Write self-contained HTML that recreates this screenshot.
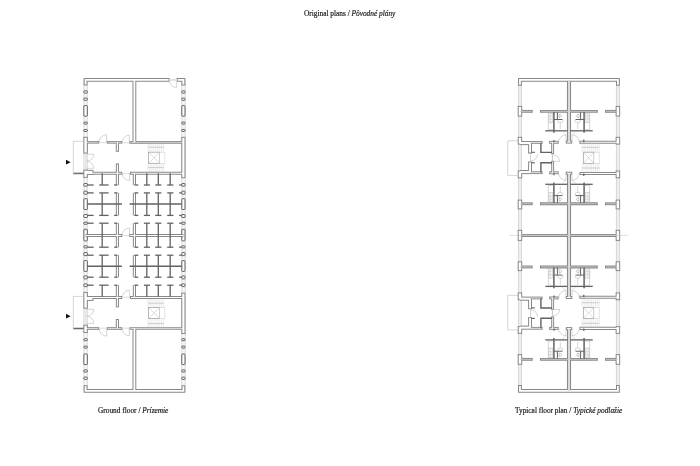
<!DOCTYPE html>
<html><head><meta charset="utf-8"><style>
html,body{margin:0;padding:0;background:#fff;width:700px;height:466px;overflow:hidden;position:relative}
.t{position:absolute;font-family:"Liberation Serif",serif;font-size:7.35px;color:#1a1a1a;white-space:nowrap;line-height:1;will-change:transform;-webkit-text-stroke:0.18px #1a1a1a}
</style></head><body>
<div class="t" id="t1" style="left:303.6px;top:9.6px">Original plans / <i>Pôvodné plány</i></div>
<div class="t" id="t2" style="left:97.9px;top:406.5px">Ground floor / <i>Prízemie</i></div>
<div class="t" id="t3" style="left:514.6px;top:406.5px">Typical floor plan / <i>Typické podlažie</i></div>
<svg width="700" height="466" viewBox="0 0 700 466" style="position:absolute;left:0;top:0">
<g fill="none"><rect x="83.9" y="80" width="3.3" height="311" fill="#f7f7f7" stroke="#c4c4c4" stroke-width="0.6"/><rect x="181.85" y="80" width="3.3" height="311" fill="#f7f7f7" stroke="#c4c4c4" stroke-width="0.6"/><rect x="518.2" y="80" width="3.4" height="311" fill="#eeeeee" stroke="#bdbdbd" stroke-width="0.5"/><rect x="616.2" y="80" width="3.4" height="311" fill="#eeeeee" stroke="#bdbdbd" stroke-width="0.5"/></g><rect x="83.9" y="153.8" width="3.0" height="15.5" fill="#e8e8e8"/><rect x="83.9" y="308.9" width="3.0" height="15.5" fill="#e8e8e8"/>
<g fill="#fff" stroke="#5e5e5e" stroke-width="1.0"><rect x="83.86" y="90.8" width="3.44" height="2.3" rx="0.5"/><rect x="181.8" y="90.8" width="3.2" height="2.3" rx="0.5"/><rect x="83.86" y="98.1" width="3.44" height="2.2" rx="0.5"/><rect x="181.8" y="98.1" width="3.2" height="2.2" rx="0.5"/><rect x="83.86" y="105.6" width="3.44" height="10.6" rx="0.5"/><rect x="181.8" y="105.6" width="3.2" height="10.6" rx="0.5"/><rect x="83.86" y="122.1" width="3.44" height="2" rx="0.5"/><rect x="181.8" y="122.1" width="3.2" height="2" rx="0.5"/><rect x="83.86" y="129.5" width="3.44" height="2" rx="0.5"/><rect x="181.8" y="129.5" width="3.2" height="2" rx="0.5"/><rect x="83.86" y="377.1" width="3.44" height="2.3" rx="0.5"/><rect x="181.8" y="377.1" width="3.2" height="2.3" rx="0.5"/><rect x="83.86" y="369.9" width="3.44" height="2.2" rx="0.5"/><rect x="181.8" y="369.9" width="3.2" height="2.2" rx="0.5"/><rect x="83.86" y="354" width="3.44" height="10.6" rx="0.5"/><rect x="181.8" y="354" width="3.2" height="10.6" rx="0.5"/><rect x="83.86" y="346.1" width="3.44" height="2" rx="0.5"/><rect x="181.8" y="346.1" width="3.2" height="2" rx="0.5"/><rect x="83.86" y="338.7" width="3.44" height="2" rx="0.5"/><rect x="181.8" y="338.7" width="3.2" height="2" rx="0.5"/><rect x="83.86" y="183.5" width="3.44" height="2.7" rx="0.5"/><rect x="181.8" y="183.5" width="3.2" height="2.7" rx="0.5"/><rect x="83.86" y="191.2" width="3.44" height="3" rx="0.5"/><rect x="181.8" y="191.2" width="3.2" height="3" rx="0.5"/><rect x="83.86" y="198.7" width="3.44" height="10.8" rx="0.5"/><rect x="181.8" y="198.7" width="3.2" height="10.8" rx="0.5"/><rect x="83.86" y="214.5" width="3.44" height="3" rx="0.5"/><rect x="181.8" y="214.5" width="3.2" height="3" rx="0.5"/><rect x="83.86" y="222.2" width="3.44" height="2.1" rx="0.5"/><rect x="181.8" y="222.2" width="3.2" height="2.1" rx="0.5"/><rect x="83.86" y="283.9" width="3.44" height="2.7" rx="0.5"/><rect x="181.8" y="283.9" width="3.2" height="2.7" rx="0.5"/><rect x="83.86" y="275.9" width="3.44" height="3" rx="0.5"/><rect x="181.8" y="275.9" width="3.2" height="3" rx="0.5"/><rect x="83.86" y="260.6" width="3.44" height="10.8" rx="0.5"/><rect x="181.8" y="260.6" width="3.2" height="10.8" rx="0.5"/><rect x="83.86" y="252.6" width="3.44" height="3" rx="0.5"/><rect x="181.8" y="252.6" width="3.2" height="3" rx="0.5"/><rect x="83.86" y="245.8" width="3.44" height="2.1" rx="0.5"/><rect x="181.8" y="245.8" width="3.2" height="2.1" rx="0.5"/><rect x="83.86" y="229.3" width="3.44" height="11.6" rx="0.5"/><rect x="181.8" y="229.3" width="3.2" height="11.6" rx="0.5"/></g>
<g fill="none" stroke="#888888" stroke-linejoin="miter" stroke-linecap="butt"><path d="M85.58,85.6 L85.58,79.93 L169.6,79.93" stroke-width="3.85"/><path d="M176.6,79.93 L183.4,79.93 L183.4,85.6" stroke-width="3.85"/><path d="M134.4,79.93 L134.4,142.25" stroke-width="3.8"/><path d="M183.4,136.8 L183.4,178.2" stroke-width="4.2"/><path d="M85.58,142.3 L99.2,142.3" stroke-width="2.65"/><path d="M106.7,142.3 L122.3,142.3" stroke-width="2.65"/><path d="M129.3,142.3 L183.4,142.3" stroke-width="2.65"/><path d="M85.58,173.3 L122.2,173.3" stroke-width="3.05"/><path d="M130,173.3 L183.4,173.3" stroke-width="3.05"/><path d="M85.58,172.35 L93.45,172.35" stroke-width="4.9"/><path d="M117.4,142.25 L117.4,151.8" stroke-width="3.25"/><path d="M117.4,163.4 L117.4,173.3" stroke-width="3.1"/><path d="M85.58,385.2 L85.58,390.87 L183.4,390.87 L183.4,385.2" stroke-width="3.85"/><path d="M134.4,390.87 L134.4,328.55" stroke-width="3.8"/><path d="M183.4,334 L183.4,292.6" stroke-width="4.2"/><path d="M85.58,328.5 L99.2,328.5" stroke-width="2.65"/><path d="M106.7,328.5 L122.3,328.5" stroke-width="2.65"/><path d="M129.3,328.5 L183.4,328.5" stroke-width="2.65"/><path d="M85.58,297.5 L122.2,297.5" stroke-width="3.05"/><path d="M130,297.5 L183.4,297.5" stroke-width="3.05"/><path d="M85.58,298.45 L93.45,298.45" stroke-width="4.9"/><path d="M117.4,328.55 L117.4,319" stroke-width="3.25"/><path d="M117.4,307.4 L117.4,297.5" stroke-width="3.1"/><path d="M85.58,136.8 L85.58,153.6" stroke-width="4.44"/><path d="M85.58,169.6 L85.58,177.9" stroke-width="4.44"/><path d="M85.58,291.9 L85.58,308.7" stroke-width="4.44"/><path d="M85.58,324.7 L85.58,333" stroke-width="4.44"/><path d="M117.4,173.3 L117.4,185" stroke-width="3.15"/><path d="M117.4,192.9 L117.4,215.4" stroke-width="3.15"/><path d="M117.4,223.2 L117.4,235.05" stroke-width="3.15"/><path d="M134.4,173.3 L134.4,185" stroke-width="3.15"/><path d="M134.4,192.9 L134.4,215.4" stroke-width="3.15"/><path d="M134.4,223.2 L134.4,235.05" stroke-width="3.15"/><path d="M117.4,296.8 L117.4,285.2" stroke-width="3.15"/><path d="M117.4,277.2 L117.4,255.2" stroke-width="3.15"/><path d="M117.4,247.2 L117.4,235.05" stroke-width="3.15"/><path d="M134.4,296.8 L134.4,285.2" stroke-width="3.15"/><path d="M134.4,277.2 L134.4,255.2" stroke-width="3.15"/><path d="M134.4,247.2 L134.4,235.05" stroke-width="3.15"/><path d="M85.58,235.4 L122.3,235.4" stroke-width="3.05"/><path d="M129.2,235.4 L183.4,235.4" stroke-width="3.05"/><path d="M519.95,85.7 L519.95,79.82 L617.9,79.82 L617.9,85.7" stroke-width="3.8"/><path d="M569,79.82 L569,142.1" stroke-width="4.1"/><path d="M569,173.2 L569,235.35" stroke-width="4.1"/><path d="M565.8,142.1 L572.2,142.1" stroke-width="3"/><path d="M565.8,173.2 L572.2,173.2" stroke-width="3"/><path d="M519.95,105.9 L519.95,116.6" stroke-width="4.5"/><path d="M617.9,105.9 L617.9,116.6" stroke-width="4.5"/><path d="M519.95,136.8 L519.95,144.6" stroke-width="4.5"/><path d="M617.9,136.8 L617.9,144.6" stroke-width="4.5"/><path d="M519.95,170.5 L519.95,178.3" stroke-width="4.5"/><path d="M617.9,170.5 L617.9,178.3" stroke-width="4.5"/><path d="M519.95,199.6 L519.95,209.4" stroke-width="4.5"/><path d="M617.9,199.6 L617.9,209.4" stroke-width="4.5"/><path d="M519.95,229.8 L519.95,235.35" stroke-width="4.5"/><path d="M617.9,229.8 L617.9,235.35" stroke-width="4.5"/><path d="M519.95,111.35 L532.7,111.35" stroke-width="2.85"/><path d="M540,111.35 L597.8,111.35" stroke-width="2.85"/><path d="M605,111.35 L617.9,111.35" stroke-width="2.85"/><path d="M519.95,203.75 L532.7,203.75" stroke-width="2.85"/><path d="M540,203.75 L597.8,203.75" stroke-width="2.85"/><path d="M605,203.75 L617.9,203.75" stroke-width="2.85"/><path d="M579.4,142.3 L617.9,142.3" stroke-width="3.1"/><path d="M579.4,173.5 L617.9,173.5" stroke-width="3.1"/><path d="M519.95,143.05 L530.05,143.05" stroke-width="4.1"/><path d="M530.05,143.05 L530.05,153.6" stroke-width="3.9"/><path d="M530.05,142.4 L542.6,142.4" stroke-width="2.8"/><path d="M552.65,142.3 L552.65,154.3" stroke-width="2.9"/><path d="M549.2,142.3 L558.7,142.3" stroke-width="2.9"/><path d="M519.95,172.05 L530.05,172.05" stroke-width="4.1"/><path d="M530.05,172.05 L530.05,161.5" stroke-width="3.9"/><path d="M530.05,172.7 L542.6,172.7" stroke-width="2.8"/><path d="M552.65,172.8 L552.65,160.8" stroke-width="2.9"/><path d="M549.2,172.8 L558.7,172.8" stroke-width="2.9"/><path d="M519.95,385 L519.95,390.88 L617.9,390.88 L617.9,385" stroke-width="3.8"/><path d="M569,390.88 L569,328.6" stroke-width="4.1"/><path d="M569,297.5 L569,235.35" stroke-width="4.1"/><path d="M565.8,328.6 L572.2,328.6" stroke-width="3"/><path d="M565.8,297.5 L572.2,297.5" stroke-width="3"/><path d="M519.95,364.8 L519.95,354.1" stroke-width="4.5"/><path d="M617.9,364.8 L617.9,354.1" stroke-width="4.5"/><path d="M519.95,333.9 L519.95,326.1" stroke-width="4.5"/><path d="M617.9,333.9 L617.9,326.1" stroke-width="4.5"/><path d="M519.95,300.2 L519.95,292.4" stroke-width="4.5"/><path d="M617.9,300.2 L617.9,292.4" stroke-width="4.5"/><path d="M519.95,271.1 L519.95,261.3" stroke-width="4.5"/><path d="M617.9,271.1 L617.9,261.3" stroke-width="4.5"/><path d="M519.95,240.9 L519.95,235.35" stroke-width="4.5"/><path d="M617.9,240.9 L617.9,235.35" stroke-width="4.5"/><path d="M519.95,359.35 L532.7,359.35" stroke-width="2.85"/><path d="M540,359.35 L597.8,359.35" stroke-width="2.85"/><path d="M605,359.35 L617.9,359.35" stroke-width="2.85"/><path d="M519.95,266.95 L532.7,266.95" stroke-width="2.85"/><path d="M540,266.95 L597.8,266.95" stroke-width="2.85"/><path d="M605,266.95 L617.9,266.95" stroke-width="2.85"/><path d="M579.4,328.4 L617.9,328.4" stroke-width="3.1"/><path d="M579.4,297.2 L617.9,297.2" stroke-width="3.1"/><path d="M519.95,327.65 L530.05,327.65" stroke-width="4.1"/><path d="M530.05,327.65 L530.05,317.1" stroke-width="3.9"/><path d="M530.05,328.3 L542.6,328.3" stroke-width="2.8"/><path d="M552.65,328.4 L552.65,316.4" stroke-width="2.9"/><path d="M549.2,328.4 L558.7,328.4" stroke-width="2.9"/><path d="M519.95,298.65 L530.05,298.65" stroke-width="4.1"/><path d="M530.05,298.65 L530.05,309.2" stroke-width="3.9"/><path d="M530.05,298 L542.6,298" stroke-width="2.8"/><path d="M552.65,297.9 L552.65,309.9" stroke-width="2.9"/><path d="M549.2,297.9 L558.7,297.9" stroke-width="2.9"/><path d="M519.95,235.4 L617.9,235.4" stroke-width="2.95"/></g>
<g fill="none" stroke="#fff" stroke-linejoin="miter" stroke-linecap="butt"><path d="M85.58,84.6 L85.58,79.93 L168.6,79.93" stroke-width="1.85"/><path d="M177.6,79.93 L183.4,79.93 L183.4,84.6" stroke-width="1.85"/><path d="M134.4,79.93 L134.4,142.25" stroke-width="1.8"/><path d="M183.4,137.8 L183.4,177.2" stroke-width="2.2"/><path d="M85.58,142.3 L98.2,142.3" stroke-width="0.65"/><path d="M107.7,142.3 L121.3,142.3" stroke-width="0.65"/><path d="M130.3,142.3 L183.4,142.3" stroke-width="0.65"/><path d="M85.58,173.3 L121.2,173.3" stroke-width="1.05"/><path d="M131,173.3 L183.4,173.3" stroke-width="1.05"/><path d="M85.58,172.35 L92.45,172.35" stroke-width="2.9"/><path d="M117.4,142.25 L117.4,150.8" stroke-width="1.25"/><path d="M117.4,164.4 L117.4,173.3" stroke-width="1.1"/><path d="M85.58,386.2 L85.58,390.87 L183.4,390.87 L183.4,386.2" stroke-width="1.85"/><path d="M134.4,390.87 L134.4,328.55" stroke-width="1.8"/><path d="M183.4,333 L183.4,293.6" stroke-width="2.2"/><path d="M85.58,328.5 L98.2,328.5" stroke-width="0.65"/><path d="M107.7,328.5 L121.3,328.5" stroke-width="0.65"/><path d="M130.3,328.5 L183.4,328.5" stroke-width="0.65"/><path d="M85.58,297.5 L121.2,297.5" stroke-width="1.05"/><path d="M131,297.5 L183.4,297.5" stroke-width="1.05"/><path d="M85.58,298.45 L92.45,298.45" stroke-width="2.9"/><path d="M117.4,328.55 L117.4,320" stroke-width="1.25"/><path d="M117.4,306.4 L117.4,297.5" stroke-width="1.1"/><path d="M85.58,137.8 L85.58,152.6" stroke-width="2.44"/><path d="M85.58,170.6 L85.58,176.9" stroke-width="2.44"/><path d="M85.58,292.9 L85.58,307.7" stroke-width="2.44"/><path d="M85.58,325.7 L85.58,332" stroke-width="2.44"/><path d="M117.4,173.3 L117.4,185" stroke-width="1.15"/><path d="M117.4,192.9 L117.4,215.4" stroke-width="1.15"/><path d="M117.4,223.2 L117.4,235.05" stroke-width="1.15"/><path d="M134.4,173.3 L134.4,185" stroke-width="1.15"/><path d="M134.4,192.9 L134.4,215.4" stroke-width="1.15"/><path d="M134.4,223.2 L134.4,235.05" stroke-width="1.15"/><path d="M117.4,296.8 L117.4,285.2" stroke-width="1.15"/><path d="M117.4,277.2 L117.4,255.2" stroke-width="1.15"/><path d="M117.4,247.2 L117.4,235.05" stroke-width="1.15"/><path d="M134.4,296.8 L134.4,285.2" stroke-width="1.15"/><path d="M134.4,277.2 L134.4,255.2" stroke-width="1.15"/><path d="M134.4,247.2 L134.4,235.05" stroke-width="1.15"/><path d="M85.58,235.4 L121.3,235.4" stroke-width="1.05"/><path d="M130.2,235.4 L183.4,235.4" stroke-width="1.05"/><path d="M519.95,84.7 L519.95,79.82 L617.9,79.82 L617.9,84.7" stroke-width="1.8"/><path d="M569,79.82 L569,142.1" stroke-width="2.1" stroke="#dadada"/><path d="M569,173.2 L569,235.35" stroke-width="2.1" stroke="#dadada"/><path d="M566.8,142.1 L571.2,142.1" stroke-width="1"/><path d="M566.8,173.2 L571.2,173.2" stroke-width="1"/><path d="M519.95,106.9 L519.95,115.6" stroke-width="2.5"/><path d="M617.9,106.9 L617.9,115.6" stroke-width="2.5"/><path d="M519.95,137.8 L519.95,143.6" stroke-width="2.5"/><path d="M617.9,137.8 L617.9,143.6" stroke-width="2.5"/><path d="M519.95,171.5 L519.95,177.3" stroke-width="2.5"/><path d="M617.9,171.5 L617.9,177.3" stroke-width="2.5"/><path d="M519.95,200.6 L519.95,208.4" stroke-width="2.5"/><path d="M617.9,200.6 L617.9,208.4" stroke-width="2.5"/><path d="M519.95,230.8 L519.95,235.35" stroke-width="2.5"/><path d="M617.9,230.8 L617.9,235.35" stroke-width="2.5"/><path d="M519.95,111.35 L531.7,111.35" stroke-width="0.85" stroke="#d0d0d0"/><path d="M541,111.35 L596.8,111.35" stroke-width="0.85" stroke="#d0d0d0"/><path d="M606,111.35 L617.9,111.35" stroke-width="0.85" stroke="#d0d0d0"/><path d="M519.95,203.75 L531.7,203.75" stroke-width="0.85" stroke="#d0d0d0"/><path d="M541,203.75 L596.8,203.75" stroke-width="0.85" stroke="#d0d0d0"/><path d="M606,203.75 L617.9,203.75" stroke-width="0.85" stroke="#d0d0d0"/><path d="M580.4,142.3 L617.9,142.3" stroke-width="1.1"/><path d="M580.4,173.5 L617.9,173.5" stroke-width="1.1"/><path d="M519.95,143.05 L530.05,143.05" stroke-width="2.1"/><path d="M530.05,143.05 L530.05,152.6" stroke-width="1.9"/><path d="M530.05,142.4 L541.6,142.4" stroke-width="0.8"/><path d="M552.65,142.3 L552.65,153.3" stroke-width="0.9"/><path d="M550.2,142.3 L557.7,142.3" stroke-width="0.9"/><path d="M519.95,172.05 L530.05,172.05" stroke-width="2.1"/><path d="M530.05,172.05 L530.05,162.5" stroke-width="1.9"/><path d="M530.05,172.7 L541.6,172.7" stroke-width="0.8"/><path d="M552.65,172.8 L552.65,161.8" stroke-width="0.9"/><path d="M550.2,172.8 L557.7,172.8" stroke-width="0.9"/><path d="M519.95,386 L519.95,390.88 L617.9,390.88 L617.9,386" stroke-width="1.8"/><path d="M569,390.88 L569,328.6" stroke-width="2.1" stroke="#dadada"/><path d="M569,297.5 L569,235.35" stroke-width="2.1" stroke="#dadada"/><path d="M566.8,328.6 L571.2,328.6" stroke-width="1"/><path d="M566.8,297.5 L571.2,297.5" stroke-width="1"/><path d="M519.95,363.8 L519.95,355.1" stroke-width="2.5"/><path d="M617.9,363.8 L617.9,355.1" stroke-width="2.5"/><path d="M519.95,332.9 L519.95,327.1" stroke-width="2.5"/><path d="M617.9,332.9 L617.9,327.1" stroke-width="2.5"/><path d="M519.95,299.2 L519.95,293.4" stroke-width="2.5"/><path d="M617.9,299.2 L617.9,293.4" stroke-width="2.5"/><path d="M519.95,270.1 L519.95,262.3" stroke-width="2.5"/><path d="M617.9,270.1 L617.9,262.3" stroke-width="2.5"/><path d="M519.95,239.9 L519.95,235.35" stroke-width="2.5"/><path d="M617.9,239.9 L617.9,235.35" stroke-width="2.5"/><path d="M519.95,359.35 L531.7,359.35" stroke-width="0.85" stroke="#d0d0d0"/><path d="M541,359.35 L596.8,359.35" stroke-width="0.85" stroke="#d0d0d0"/><path d="M606,359.35 L617.9,359.35" stroke-width="0.85" stroke="#d0d0d0"/><path d="M519.95,266.95 L531.7,266.95" stroke-width="0.85" stroke="#d0d0d0"/><path d="M541,266.95 L596.8,266.95" stroke-width="0.85" stroke="#d0d0d0"/><path d="M606,266.95 L617.9,266.95" stroke-width="0.85" stroke="#d0d0d0"/><path d="M580.4,328.4 L617.9,328.4" stroke-width="1.1"/><path d="M580.4,297.2 L617.9,297.2" stroke-width="1.1"/><path d="M519.95,327.65 L530.05,327.65" stroke-width="2.1"/><path d="M530.05,327.65 L530.05,318.1" stroke-width="1.9"/><path d="M530.05,328.3 L541.6,328.3" stroke-width="0.8"/><path d="M552.65,328.4 L552.65,317.4" stroke-width="0.9"/><path d="M550.2,328.4 L557.7,328.4" stroke-width="0.9"/><path d="M519.95,298.65 L530.05,298.65" stroke-width="2.1"/><path d="M530.05,298.65 L530.05,308.2" stroke-width="1.9"/><path d="M530.05,298 L541.6,298" stroke-width="0.8"/><path d="M552.65,297.9 L552.65,308.9" stroke-width="0.9"/><path d="M550.2,297.9 L557.7,297.9" stroke-width="0.9"/><path d="M519.95,235.4 L617.9,235.4" stroke-width="0.95" stroke="#e0e0e0"/></g>
<g fill="none" stroke="#626262" stroke-linecap="butt"><path d="M73.3,173.3 L83.6,173.3" stroke-width="1.3"/><path d="M73.3,328.4 L83.6,328.4" stroke-width="1.3"/><path d="M87.3,204 L121.9,204" stroke-width="1.4"/><path d="M129.6,204 L181.7,204" stroke-width="1.4"/><path d="M87.3,185 L93.6,185" stroke-width="1.3"/><path d="M99.2,185 L108.6,185" stroke-width="1.3"/><path d="M114.2,185 L117.4,185" stroke-width="1.3"/><path d="M134.4,185 L138.3,185" stroke-width="1.3"/><path d="M143.9,185 L150,185" stroke-width="1.3"/><path d="M155.2,185 L161.4,185" stroke-width="1.3"/><path d="M167.2,185 L173.4,185" stroke-width="1.3"/><path d="M179.2,185 L181.7,185" stroke-width="1.3"/><path d="M87.3,192.9 L93.6,192.9" stroke-width="1.3"/><path d="M99.2,192.9 L108.6,192.9" stroke-width="1.3"/><path d="M114.2,192.9 L117.4,192.9" stroke-width="1.3"/><path d="M134.4,192.9 L138.3,192.9" stroke-width="1.3"/><path d="M143.9,192.9 L150,192.9" stroke-width="1.3"/><path d="M155.2,192.9 L161.4,192.9" stroke-width="1.3"/><path d="M167.2,192.9 L173.4,192.9" stroke-width="1.3"/><path d="M179.2,192.9 L181.7,192.9" stroke-width="1.3"/><path d="M87.3,215.4 L93.6,215.4" stroke-width="1.3"/><path d="M99.2,215.4 L108.6,215.4" stroke-width="1.3"/><path d="M114.2,215.4 L117.4,215.4" stroke-width="1.3"/><path d="M134.4,215.4 L138.3,215.4" stroke-width="1.3"/><path d="M143.9,215.4 L150,215.4" stroke-width="1.3"/><path d="M155.2,215.4 L161.4,215.4" stroke-width="1.3"/><path d="M167.2,215.4 L173.4,215.4" stroke-width="1.3"/><path d="M179.2,215.4 L181.7,215.4" stroke-width="1.3"/><path d="M87.3,223.2 L93.6,223.2" stroke-width="1.3"/><path d="M99.2,223.2 L108.6,223.2" stroke-width="1.3"/><path d="M114.2,223.2 L117.4,223.2" stroke-width="1.3"/><path d="M134.4,223.2 L138.3,223.2" stroke-width="1.3"/><path d="M143.9,223.2 L150,223.2" stroke-width="1.3"/><path d="M155.2,223.2 L161.4,223.2" stroke-width="1.3"/><path d="M167.2,223.2 L173.4,223.2" stroke-width="1.3"/><path d="M179.2,223.2 L181.7,223.2" stroke-width="1.3"/><path d="M102.2,173.3 L102.2,185" stroke-width="1.3"/><path d="M102.2,192.9 L102.2,215.4" stroke-width="1.3"/><path d="M102.2,223.2 L102.2,235.05" stroke-width="1.3"/><path d="M146.8,173.3 L146.8,185" stroke-width="1.3"/><path d="M146.8,192.9 L146.8,215.4" stroke-width="1.3"/><path d="M146.8,223.2 L146.8,235.05" stroke-width="1.3"/><path d="M158.3,173.3 L158.3,185" stroke-width="1.3"/><path d="M158.3,192.9 L158.3,215.4" stroke-width="1.3"/><path d="M158.3,223.2 L158.3,235.05" stroke-width="1.3"/><path d="M170.2,173.3 L170.2,185" stroke-width="1.3"/><path d="M170.2,192.9 L170.2,215.4" stroke-width="1.3"/><path d="M170.2,223.2 L170.2,235.05" stroke-width="1.3"/><path d="M87.3,266.3 L121.9,266.3" stroke-width="1.4"/><path d="M129.6,266.3 L181.7,266.3" stroke-width="1.4"/><path d="M87.3,285.2 L93.6,285.2" stroke-width="1.3"/><path d="M99.2,285.2 L108.6,285.2" stroke-width="1.3"/><path d="M114.2,285.2 L117.4,285.2" stroke-width="1.3"/><path d="M134.4,285.2 L138.3,285.2" stroke-width="1.3"/><path d="M143.9,285.2 L150,285.2" stroke-width="1.3"/><path d="M155.2,285.2 L161.4,285.2" stroke-width="1.3"/><path d="M167.2,285.2 L173.4,285.2" stroke-width="1.3"/><path d="M179.2,285.2 L181.7,285.2" stroke-width="1.3"/><path d="M87.3,277.2 L93.6,277.2" stroke-width="1.3"/><path d="M99.2,277.2 L108.6,277.2" stroke-width="1.3"/><path d="M114.2,277.2 L117.4,277.2" stroke-width="1.3"/><path d="M134.4,277.2 L138.3,277.2" stroke-width="1.3"/><path d="M143.9,277.2 L150,277.2" stroke-width="1.3"/><path d="M155.2,277.2 L161.4,277.2" stroke-width="1.3"/><path d="M167.2,277.2 L173.4,277.2" stroke-width="1.3"/><path d="M179.2,277.2 L181.7,277.2" stroke-width="1.3"/><path d="M87.3,255.2 L93.6,255.2" stroke-width="1.3"/><path d="M99.2,255.2 L108.6,255.2" stroke-width="1.3"/><path d="M114.2,255.2 L117.4,255.2" stroke-width="1.3"/><path d="M134.4,255.2 L138.3,255.2" stroke-width="1.3"/><path d="M143.9,255.2 L150,255.2" stroke-width="1.3"/><path d="M155.2,255.2 L161.4,255.2" stroke-width="1.3"/><path d="M167.2,255.2 L173.4,255.2" stroke-width="1.3"/><path d="M179.2,255.2 L181.7,255.2" stroke-width="1.3"/><path d="M87.3,247.2 L93.6,247.2" stroke-width="1.3"/><path d="M99.2,247.2 L108.6,247.2" stroke-width="1.3"/><path d="M114.2,247.2 L117.4,247.2" stroke-width="1.3"/><path d="M134.4,247.2 L138.3,247.2" stroke-width="1.3"/><path d="M143.9,247.2 L150,247.2" stroke-width="1.3"/><path d="M155.2,247.2 L161.4,247.2" stroke-width="1.3"/><path d="M167.2,247.2 L173.4,247.2" stroke-width="1.3"/><path d="M179.2,247.2 L181.7,247.2" stroke-width="1.3"/><path d="M102.2,296.8 L102.2,285.2" stroke-width="1.3"/><path d="M102.2,277.2 L102.2,255.2" stroke-width="1.3"/><path d="M102.2,247.2 L102.2,235.05" stroke-width="1.3"/><path d="M146.8,296.8 L146.8,285.2" stroke-width="1.3"/><path d="M146.8,277.2 L146.8,255.2" stroke-width="1.3"/><path d="M146.8,247.2 L146.8,235.05" stroke-width="1.3"/><path d="M158.3,296.8 L158.3,285.2" stroke-width="1.3"/><path d="M158.3,277.2 L158.3,255.2" stroke-width="1.3"/><path d="M158.3,247.2 L158.3,235.05" stroke-width="1.3"/><path d="M170.2,296.8 L170.2,285.2" stroke-width="1.3"/><path d="M170.2,277.2 L170.2,255.2" stroke-width="1.3"/><path d="M170.2,247.2 L170.2,235.05" stroke-width="1.3"/><path d="M583.8,142.3 L583.8,139.6" stroke-width="1.2"/><path d="M583.8,173.5 L583.8,176" stroke-width="1.2"/><path d="M540.9,142.9 L540.9,152.4 L552,152.4" stroke-width="1.4"/><path d="M531.4,152.3 L534.9,152.3" stroke-width="1.1"/><path d="M554,142.3 L554,139.9" stroke-width="1.2"/><path d="M540.9,172.2 L540.9,162.7 L552,162.7" stroke-width="1.4"/><path d="M531.4,162.8 L534.9,162.8" stroke-width="1.1"/><path d="M554,172.8 L554,175.2" stroke-width="1.2"/><path d="M545.3,130.8 L567.5,130.8" stroke-width="1.3"/><path d="M553.9,112 L553.9,132.7" stroke-width="1.5"/><path d="M557.4,112 L557.4,119.5" stroke-width="1"/><path d="M553.9,119.5 L562.5,119.5" stroke-width="1"/><path d="M592.7,130.8 L570.5,130.8" stroke-width="1.3"/><path d="M584.1,112 L584.1,132.7" stroke-width="1.5"/><path d="M580.6,112 L580.6,119.5" stroke-width="1"/><path d="M584.1,119.5 L575.5,119.5" stroke-width="1"/><path d="M545.3,184.3 L567.5,184.3" stroke-width="1.3"/><path d="M553.9,203.1 L553.9,182.4" stroke-width="1.5"/><path d="M557.4,203.1 L557.4,195.6" stroke-width="1"/><path d="M553.9,195.6 L562.5,195.6" stroke-width="1"/><path d="M592.7,184.3 L570.5,184.3" stroke-width="1.3"/><path d="M584.1,203.1 L584.1,182.4" stroke-width="1.5"/><path d="M580.6,203.1 L580.6,195.6" stroke-width="1"/><path d="M584.1,195.6 L575.5,195.6" stroke-width="1"/><path d="M583.8,328.4 L583.8,331.1" stroke-width="1.2"/><path d="M583.8,297.2 L583.8,294.7" stroke-width="1.2"/><path d="M540.9,327.8 L540.9,318.3 L552,318.3" stroke-width="1.4"/><path d="M531.4,318.4 L534.9,318.4" stroke-width="1.1"/><path d="M554,328.4 L554,330.8" stroke-width="1.2"/><path d="M540.9,298.5 L540.9,308 L552,308" stroke-width="1.4"/><path d="M531.4,307.9 L534.9,307.9" stroke-width="1.1"/><path d="M554,297.9 L554,295.5" stroke-width="1.2"/><path d="M545.3,339.9 L567.5,339.9" stroke-width="1.3"/><path d="M553.9,358.7 L553.9,338" stroke-width="1.5"/><path d="M557.4,358.7 L557.4,351.2" stroke-width="1"/><path d="M553.9,351.2 L562.5,351.2" stroke-width="1"/><path d="M592.7,339.9 L570.5,339.9" stroke-width="1.3"/><path d="M584.1,358.7 L584.1,338" stroke-width="1.5"/><path d="M580.6,358.7 L580.6,351.2" stroke-width="1"/><path d="M584.1,351.2 L575.5,351.2" stroke-width="1"/><path d="M545.3,286.4 L567.5,286.4" stroke-width="1.3"/><path d="M553.9,267.6 L553.9,288.3" stroke-width="1.5"/><path d="M557.4,267.6 L557.4,275.1" stroke-width="1"/><path d="M553.9,275.1 L562.5,275.1" stroke-width="1"/><path d="M592.7,286.4 L570.5,286.4" stroke-width="1.3"/><path d="M584.1,267.6 L584.1,288.3" stroke-width="1.5"/><path d="M580.6,267.6 L580.6,275.1" stroke-width="1"/><path d="M584.1,275.1 L575.5,275.1" stroke-width="1"/></g>
<g fill="none" stroke="#b8b8b8"><path d="M169.6,81.33 A7.2,7.2 0 0 0 176.4,87.4" stroke-width="0.6"/><path d="M176.4,81.33 L176.4,87.4" stroke-width="0.6"/><path d="M169.6,79.93 L176.6,79.93" stroke-width="2.2" stroke="#e4e4e4"/><path d="M106.7,134.7 A7.5,7.5 0 0 0 99.2,142.25" stroke-width="0.6"/><path d="M106.7,142.25 L106.7,134.7" stroke-width="0.6"/><path d="M99.2,142.6 L106.7,142.6" stroke-width="1.2" stroke="#e2e2e2"/><path d="M122.3,142.6 L129.3,142.6" stroke-width="1.2" stroke="#e2e2e2"/><path d="M122.2,173.5 L130,173.5" stroke-width="1.2" stroke="#e2e2e2"/><path d="M129.3,135.1 A7.1,7.1 0 0 0 122.3,142.25" stroke-width="0.6"/><path d="M129.3,142.25 L129.3,135.1" stroke-width="0.6"/><path d="M122.2,173.3 A7.4,7.4 0 0 0 129.6,180.6" stroke-width="0.6"/><path d="M129.6,173.3 L129.6,180.6" stroke-width="0.6"/><path d="M148.1,143.5 L148.1,152.2" stroke-width="0.4" stroke="#cccccc"/><path d="M148.1,163.3 L148.1,172.2" stroke-width="0.4" stroke="#cccccc"/><path d="M150.04,143.5 L150.04,152.2" stroke-width="0.4" stroke="#cccccc"/><path d="M150.04,163.3 L150.04,172.2" stroke-width="0.4" stroke="#cccccc"/><path d="M151.98,143.5 L151.98,152.2" stroke-width="0.4" stroke="#cccccc"/><path d="M151.98,163.3 L151.98,172.2" stroke-width="0.4" stroke="#cccccc"/><path d="M153.92,143.5 L153.92,152.2" stroke-width="0.4" stroke="#cccccc"/><path d="M153.92,163.3 L153.92,172.2" stroke-width="0.4" stroke="#cccccc"/><path d="M155.86,143.5 L155.86,152.2" stroke-width="0.4" stroke="#cccccc"/><path d="M155.86,163.3 L155.86,172.2" stroke-width="0.4" stroke="#cccccc"/><path d="M157.8,143.5 L157.8,152.2" stroke-width="0.4" stroke="#cccccc"/><path d="M157.8,163.3 L157.8,172.2" stroke-width="0.4" stroke="#cccccc"/><path d="M159.74,143.5 L159.74,152.2" stroke-width="0.4" stroke="#cccccc"/><path d="M159.74,163.3 L159.74,172.2" stroke-width="0.4" stroke="#cccccc"/><path d="M161.68,143.5 L161.68,152.2" stroke-width="0.4" stroke="#cccccc"/><path d="M161.68,163.3 L161.68,172.2" stroke-width="0.4" stroke="#cccccc"/><path d="M163.62,143.5 L163.62,152.2" stroke-width="0.4" stroke="#cccccc"/><path d="M163.62,163.3 L163.62,172.2" stroke-width="0.4" stroke="#cccccc"/><path d="M148.1,147.2 L163.6,147.2" stroke-width="0.55" stroke="#aaaaaa"/><path d="M148.1,167.6 L163.6,167.6" stroke-width="0.55" stroke="#aaaaaa"/><rect x="148.6" y="152.2" width="11.1" height="11.1" fill="#fff" stroke="#999" stroke-width="0.7"/><rect x="159.7" y="152.2" width="5.2" height="11.1" fill="#fff" stroke="#d0d0d0" stroke-width="0.6"/><path d="M148.6,152.2 L159.7,163.3 M148.6,163.3 L159.7,152.2" stroke-width="0.5"/><path d="M106.7,336.1 A7.5,7.5 0 0 1 99.2,328.55" stroke-width="0.6"/><path d="M106.7,328.55 L106.7,336.1" stroke-width="0.6"/><path d="M99.2,328.2 L106.7,328.2" stroke-width="1.2" stroke="#e2e2e2"/><path d="M122.3,328.2 L129.3,328.2" stroke-width="1.2" stroke="#e2e2e2"/><path d="M122.2,297.3 L130,297.3" stroke-width="1.2" stroke="#e2e2e2"/><path d="M129.3,335.7 A7.1,7.1 0 0 1 122.3,328.55" stroke-width="0.6"/><path d="M129.3,328.55 L129.3,335.7" stroke-width="0.6"/><path d="M122.2,297.5 A7.4,7.4 0 0 1 129.6,290.2" stroke-width="0.6"/><path d="M129.6,297.5 L129.6,290.2" stroke-width="0.6"/><path d="M148.1,327.3 L148.1,318.6" stroke-width="0.4" stroke="#cccccc"/><path d="M148.1,307.5 L148.1,298.6" stroke-width="0.4" stroke="#cccccc"/><path d="M150.04,327.3 L150.04,318.6" stroke-width="0.4" stroke="#cccccc"/><path d="M150.04,307.5 L150.04,298.6" stroke-width="0.4" stroke="#cccccc"/><path d="M151.98,327.3 L151.98,318.6" stroke-width="0.4" stroke="#cccccc"/><path d="M151.98,307.5 L151.98,298.6" stroke-width="0.4" stroke="#cccccc"/><path d="M153.92,327.3 L153.92,318.6" stroke-width="0.4" stroke="#cccccc"/><path d="M153.92,307.5 L153.92,298.6" stroke-width="0.4" stroke="#cccccc"/><path d="M155.86,327.3 L155.86,318.6" stroke-width="0.4" stroke="#cccccc"/><path d="M155.86,307.5 L155.86,298.6" stroke-width="0.4" stroke="#cccccc"/><path d="M157.8,327.3 L157.8,318.6" stroke-width="0.4" stroke="#cccccc"/><path d="M157.8,307.5 L157.8,298.6" stroke-width="0.4" stroke="#cccccc"/><path d="M159.74,327.3 L159.74,318.6" stroke-width="0.4" stroke="#cccccc"/><path d="M159.74,307.5 L159.74,298.6" stroke-width="0.4" stroke="#cccccc"/><path d="M161.68,327.3 L161.68,318.6" stroke-width="0.4" stroke="#cccccc"/><path d="M161.68,307.5 L161.68,298.6" stroke-width="0.4" stroke="#cccccc"/><path d="M163.62,327.3 L163.62,318.6" stroke-width="0.4" stroke="#cccccc"/><path d="M163.62,307.5 L163.62,298.6" stroke-width="0.4" stroke="#cccccc"/><path d="M148.1,323.6 L163.6,323.6" stroke-width="0.55" stroke="#aaaaaa"/><path d="M148.1,303.2 L163.6,303.2" stroke-width="0.55" stroke="#aaaaaa"/><rect x="148.6" y="307.5" width="11.1" height="11.1" fill="#fff" stroke="#999" stroke-width="0.7"/><rect x="159.7" y="307.5" width="5.2" height="11.1" fill="#fff" stroke="#d0d0d0" stroke-width="0.6"/><path d="M148.6,307.5 L159.7,318.6 M148.6,318.6 L159.7,307.5" stroke-width="0.5"/><path d="M83.6,141.3 L73.3,141.3 L73.3,174.3 L83.6,174.3" stroke-width="0.6"/><path d="M93.7,154.2 A6.9,6.9 0 0 1 86.8,161.2" stroke-width="0.6"/><path d="M86.8,154.2 L93.7,154.2" stroke-width="0.6"/><path d="M86.8,161.3 A6.9,6.9 0 0 1 93.7,168.3" stroke-width="0.6"/><path d="M86.8,168.3 L93.7,168.3" stroke-width="0.6"/><path d="M83.6,296.4 L73.3,296.4 L73.3,329.4 L83.6,329.4" stroke-width="0.6"/><path d="M93.7,309.3 A6.9,6.9 0 0 1 86.8,316.3" stroke-width="0.6"/><path d="M86.8,309.3 L93.7,309.3" stroke-width="0.6"/><path d="M86.8,316.4 A6.9,6.9 0 0 1 93.7,323.4" stroke-width="0.6"/><path d="M86.8,323.4 L93.7,323.4" stroke-width="0.6"/><path d="M122.3,235.6 L129.4,235.6" stroke-width="0.9" stroke="#d8d8d8"/><path d="M122.2,235.4 A7.1,7.1 0 0 1 129.5,228.1" stroke-width="0.6"/><path d="M129.5,235.4 L129.5,228.1" stroke-width="0.6"/><path d="M518.3,140.8 L507.8,140.8 L507.8,175.4 L518.3,175.4" stroke-width="0.6"/><path d="M553.4,155.1 A6.2,6.2 0 0 1 559.6,161.3" stroke-width="0.6"/><path d="M553.4,161.3 L559.6,161.3" stroke-width="0.6"/><path d="M537.5,154 A7,7 0 0 1 530.5,161" stroke-width="0.6"/><path d="M530.5,154 L530.5,161" stroke-width="0.6"/><path d="M552.4,154.2 L552.4,162" stroke-width="0.8"/><path d="M582.2,143.4 L582.2,152.2" stroke-width="0.4" stroke="#cccccc"/><path d="M582.2,163.3 L582.2,172.4" stroke-width="0.4" stroke="#cccccc"/><path d="M584.09,143.4 L584.09,152.2" stroke-width="0.4" stroke="#cccccc"/><path d="M584.09,163.3 L584.09,172.4" stroke-width="0.4" stroke="#cccccc"/><path d="M585.98,143.4 L585.98,152.2" stroke-width="0.4" stroke="#cccccc"/><path d="M585.98,163.3 L585.98,172.4" stroke-width="0.4" stroke="#cccccc"/><path d="M587.87,143.4 L587.87,152.2" stroke-width="0.4" stroke="#cccccc"/><path d="M587.87,163.3 L587.87,172.4" stroke-width="0.4" stroke="#cccccc"/><path d="M589.76,143.4 L589.76,152.2" stroke-width="0.4" stroke="#cccccc"/><path d="M589.76,163.3 L589.76,172.4" stroke-width="0.4" stroke="#cccccc"/><path d="M591.65,143.4 L591.65,152.2" stroke-width="0.4" stroke="#cccccc"/><path d="M591.65,163.3 L591.65,172.4" stroke-width="0.4" stroke="#cccccc"/><path d="M593.54,143.4 L593.54,152.2" stroke-width="0.4" stroke="#cccccc"/><path d="M593.54,163.3 L593.54,172.4" stroke-width="0.4" stroke="#cccccc"/><path d="M595.43,143.4 L595.43,152.2" stroke-width="0.4" stroke="#cccccc"/><path d="M595.43,163.3 L595.43,172.4" stroke-width="0.4" stroke="#cccccc"/><path d="M597.32,143.4 L597.32,152.2" stroke-width="0.4" stroke="#cccccc"/><path d="M597.32,163.3 L597.32,172.4" stroke-width="0.4" stroke="#cccccc"/><path d="M599.21,143.4 L599.21,152.2" stroke-width="0.4" stroke="#cccccc"/><path d="M599.21,163.3 L599.21,172.4" stroke-width="0.4" stroke="#cccccc"/><path d="M582.1,147.4 L599.2,147.4" stroke-width="0.55" stroke="#aaaaaa"/><path d="M582.1,168 L599.2,168" stroke-width="0.55" stroke="#aaaaaa"/><rect x="583.3" y="152.2" width="10.7" height="11.1" fill="#fff" stroke="#999" stroke-width="0.7"/><rect x="594.0" y="152.2" width="5.2" height="11.1" fill="#fff" stroke="#d0d0d0" stroke-width="0.6"/><path d="M583.3,152.2 L594,163.3 M583.3,163.3 L594,152.2" stroke-width="0.5"/><path d="M548.3,112.3 L548.3,129.6 L553.1,129.6" stroke-width="0.6"/><path d="M548.9,113.2 L552.6,113.2 L552.6,122.6 L548.9,122.6 L548.9,113.2" stroke-width="0.55"/><path d="M548.9,116 L552.6,116" stroke-width="0.45"/><path d="M548.9,119 L552.6,119" stroke-width="0.45"/><path d="M550.75,113.2 L550.75,122.6" stroke-width="0.45"/><path d="M559.1,114.2 L560.2,114.2 L561.6,115.85 L560.2,117.5 L559.1,117.5 L559.1,114.2" stroke-width="0.6" stroke="#9a9a9a"/><path d="M557.6,120.2 L557.9,122 L559.2,122.6 L561.4,122.6 L562.7,122 L563,120.2" stroke-width="0.6"/><path d="M560.3,122.6 L560.3,129" stroke-width="0.55"/><path d="M565.9,135 A7.2,7.2 0 0 0 558.6,142.2" stroke-width="0.6"/><path d="M565.9,142.2 L565.9,135 L562.4,131.5" stroke-width="0.5"/><path d="M589.7,112.3 L589.7,129.6 L584.9,129.6" stroke-width="0.6"/><path d="M589.1,113.2 L585.4,113.2 L585.4,122.6 L589.1,122.6 L589.1,113.2" stroke-width="0.55"/><path d="M589.1,116 L585.4,116" stroke-width="0.45"/><path d="M589.1,119 L585.4,119" stroke-width="0.45"/><path d="M587.25,113.2 L587.25,122.6" stroke-width="0.45"/><path d="M578.9,114.2 L577.8,114.2 L576.4,115.85 L577.8,117.5 L578.9,117.5 L578.9,114.2" stroke-width="0.6" stroke="#9a9a9a"/><path d="M580.4,120.2 L580.1,122 L578.8,122.6 L576.6,122.6 L575.3,122 L575,120.2" stroke-width="0.6"/><path d="M577.7,122.6 L577.7,129" stroke-width="0.55"/><path d="M572.1,135 A7.2,7.2 0 0 1 579.4,142.2" stroke-width="0.6"/><path d="M572.1,142.2 L572.1,135 L575.6,131.5" stroke-width="0.5"/><path d="M548.3,202.8 L548.3,185.5 L553.1,185.5" stroke-width="0.6"/><path d="M548.9,201.9 L552.6,201.9 L552.6,192.5 L548.9,192.5 L548.9,201.9" stroke-width="0.55"/><path d="M548.9,199.1 L552.6,199.1" stroke-width="0.45"/><path d="M548.9,196.1 L552.6,196.1" stroke-width="0.45"/><path d="M550.75,201.9 L550.75,192.5" stroke-width="0.45"/><path d="M559.1,200.9 L560.2,200.9 L561.6,199.25 L560.2,197.6 L559.1,197.6 L559.1,200.9" stroke-width="0.6" stroke="#9a9a9a"/><path d="M557.6,194.9 L557.9,193.1 L559.2,192.5 L561.4,192.5 L562.7,193.1 L563,194.9" stroke-width="0.6"/><path d="M560.3,192.5 L560.3,186.1" stroke-width="0.55"/><path d="M565.9,180.1 A7.2,7.2 0 0 1 558.6,172.9" stroke-width="0.6"/><path d="M565.9,172.9 L565.9,180.1 L562.4,183.6" stroke-width="0.5"/><path d="M589.7,202.8 L589.7,185.5 L584.9,185.5" stroke-width="0.6"/><path d="M589.1,201.9 L585.4,201.9 L585.4,192.5 L589.1,192.5 L589.1,201.9" stroke-width="0.55"/><path d="M589.1,199.1 L585.4,199.1" stroke-width="0.45"/><path d="M589.1,196.1 L585.4,196.1" stroke-width="0.45"/><path d="M587.25,201.9 L587.25,192.5" stroke-width="0.45"/><path d="M578.9,200.9 L577.8,200.9 L576.4,199.25 L577.8,197.6 L578.9,197.6 L578.9,200.9" stroke-width="0.6" stroke="#9a9a9a"/><path d="M580.4,194.9 L580.1,193.1 L578.8,192.5 L576.6,192.5 L575.3,193.1 L575,194.9" stroke-width="0.6"/><path d="M577.7,192.5 L577.7,186.1" stroke-width="0.55"/><path d="M572.1,180.1 A7.2,7.2 0 0 0 579.4,172.9" stroke-width="0.6"/><path d="M572.1,172.9 L572.1,180.1 L575.6,183.6" stroke-width="0.5"/><path d="M518.3,329.9 L507.8,329.9 L507.8,295.3 L518.3,295.3" stroke-width="0.6"/><path d="M553.4,315.6 A6.2,6.2 0 0 0 559.6,309.4" stroke-width="0.6"/><path d="M553.4,309.4 L559.6,309.4" stroke-width="0.6"/><path d="M537.5,316.7 A7,7 0 0 0 530.5,309.7" stroke-width="0.6"/><path d="M530.5,316.7 L530.5,309.7" stroke-width="0.6"/><path d="M552.4,316.5 L552.4,308.7" stroke-width="0.8"/><path d="M582.2,327.3 L582.2,318.5" stroke-width="0.4" stroke="#cccccc"/><path d="M582.2,307.4 L582.2,298.3" stroke-width="0.4" stroke="#cccccc"/><path d="M584.09,327.3 L584.09,318.5" stroke-width="0.4" stroke="#cccccc"/><path d="M584.09,307.4 L584.09,298.3" stroke-width="0.4" stroke="#cccccc"/><path d="M585.98,327.3 L585.98,318.5" stroke-width="0.4" stroke="#cccccc"/><path d="M585.98,307.4 L585.98,298.3" stroke-width="0.4" stroke="#cccccc"/><path d="M587.87,327.3 L587.87,318.5" stroke-width="0.4" stroke="#cccccc"/><path d="M587.87,307.4 L587.87,298.3" stroke-width="0.4" stroke="#cccccc"/><path d="M589.76,327.3 L589.76,318.5" stroke-width="0.4" stroke="#cccccc"/><path d="M589.76,307.4 L589.76,298.3" stroke-width="0.4" stroke="#cccccc"/><path d="M591.65,327.3 L591.65,318.5" stroke-width="0.4" stroke="#cccccc"/><path d="M591.65,307.4 L591.65,298.3" stroke-width="0.4" stroke="#cccccc"/><path d="M593.54,327.3 L593.54,318.5" stroke-width="0.4" stroke="#cccccc"/><path d="M593.54,307.4 L593.54,298.3" stroke-width="0.4" stroke="#cccccc"/><path d="M595.43,327.3 L595.43,318.5" stroke-width="0.4" stroke="#cccccc"/><path d="M595.43,307.4 L595.43,298.3" stroke-width="0.4" stroke="#cccccc"/><path d="M597.32,327.3 L597.32,318.5" stroke-width="0.4" stroke="#cccccc"/><path d="M597.32,307.4 L597.32,298.3" stroke-width="0.4" stroke="#cccccc"/><path d="M599.21,327.3 L599.21,318.5" stroke-width="0.4" stroke="#cccccc"/><path d="M599.21,307.4 L599.21,298.3" stroke-width="0.4" stroke="#cccccc"/><path d="M582.1,323.3 L599.2,323.3" stroke-width="0.55" stroke="#aaaaaa"/><path d="M582.1,302.7 L599.2,302.7" stroke-width="0.55" stroke="#aaaaaa"/><rect x="583.3" y="307.4" width="10.7" height="11.1" fill="#fff" stroke="#999" stroke-width="0.7"/><rect x="594.0" y="307.4" width="5.2" height="11.1" fill="#fff" stroke="#d0d0d0" stroke-width="0.6"/><path d="M583.3,307.4 L594,318.5 M583.3,318.5 L594,307.4" stroke-width="0.5"/><path d="M548.3,358.4 L548.3,341.1 L553.1,341.1" stroke-width="0.6"/><path d="M548.9,357.5 L552.6,357.5 L552.6,348.1 L548.9,348.1 L548.9,357.5" stroke-width="0.55"/><path d="M548.9,354.7 L552.6,354.7" stroke-width="0.45"/><path d="M548.9,351.7 L552.6,351.7" stroke-width="0.45"/><path d="M550.75,357.5 L550.75,348.1" stroke-width="0.45"/><path d="M559.1,356.5 L560.2,356.5 L561.6,354.85 L560.2,353.2 L559.1,353.2 L559.1,356.5" stroke-width="0.6" stroke="#9a9a9a"/><path d="M557.6,350.5 L557.9,348.7 L559.2,348.1 L561.4,348.1 L562.7,348.7 L563,350.5" stroke-width="0.6"/><path d="M560.3,348.1 L560.3,341.7" stroke-width="0.55"/><path d="M565.9,335.7 A7.2,7.2 0 0 1 558.6,328.5" stroke-width="0.6"/><path d="M565.9,328.5 L565.9,335.7 L562.4,339.2" stroke-width="0.5"/><path d="M589.7,358.4 L589.7,341.1 L584.9,341.1" stroke-width="0.6"/><path d="M589.1,357.5 L585.4,357.5 L585.4,348.1 L589.1,348.1 L589.1,357.5" stroke-width="0.55"/><path d="M589.1,354.7 L585.4,354.7" stroke-width="0.45"/><path d="M589.1,351.7 L585.4,351.7" stroke-width="0.45"/><path d="M587.25,357.5 L587.25,348.1" stroke-width="0.45"/><path d="M578.9,356.5 L577.8,356.5 L576.4,354.85 L577.8,353.2 L578.9,353.2 L578.9,356.5" stroke-width="0.6" stroke="#9a9a9a"/><path d="M580.4,350.5 L580.1,348.7 L578.8,348.1 L576.6,348.1 L575.3,348.7 L575,350.5" stroke-width="0.6"/><path d="M577.7,348.1 L577.7,341.7" stroke-width="0.55"/><path d="M572.1,335.7 A7.2,7.2 0 0 0 579.4,328.5" stroke-width="0.6"/><path d="M572.1,328.5 L572.1,335.7 L575.6,339.2" stroke-width="0.5"/><path d="M548.3,267.9 L548.3,285.2 L553.1,285.2" stroke-width="0.6"/><path d="M548.9,268.8 L552.6,268.8 L552.6,278.2 L548.9,278.2 L548.9,268.8" stroke-width="0.55"/><path d="M548.9,271.6 L552.6,271.6" stroke-width="0.45"/><path d="M548.9,274.6 L552.6,274.6" stroke-width="0.45"/><path d="M550.75,268.8 L550.75,278.2" stroke-width="0.45"/><path d="M559.1,269.8 L560.2,269.8 L561.6,271.45 L560.2,273.1 L559.1,273.1 L559.1,269.8" stroke-width="0.6" stroke="#9a9a9a"/><path d="M557.6,275.8 L557.9,277.6 L559.2,278.2 L561.4,278.2 L562.7,277.6 L563,275.8" stroke-width="0.6"/><path d="M560.3,278.2 L560.3,284.6" stroke-width="0.55"/><path d="M565.9,290.6 A7.2,7.2 0 0 0 558.6,297.8" stroke-width="0.6"/><path d="M565.9,297.8 L565.9,290.6 L562.4,287.1" stroke-width="0.5"/><path d="M589.7,267.9 L589.7,285.2 L584.9,285.2" stroke-width="0.6"/><path d="M589.1,268.8 L585.4,268.8 L585.4,278.2 L589.1,278.2 L589.1,268.8" stroke-width="0.55"/><path d="M589.1,271.6 L585.4,271.6" stroke-width="0.45"/><path d="M589.1,274.6 L585.4,274.6" stroke-width="0.45"/><path d="M587.25,268.8 L587.25,278.2" stroke-width="0.45"/><path d="M578.9,269.8 L577.8,269.8 L576.4,271.45 L577.8,273.1 L578.9,273.1 L578.9,269.8" stroke-width="0.6" stroke="#9a9a9a"/><path d="M580.4,275.8 L580.1,277.6 L578.8,278.2 L576.6,278.2 L575.3,277.6 L575,275.8" stroke-width="0.6"/><path d="M577.7,278.2 L577.7,284.6" stroke-width="0.55"/><path d="M572.1,290.6 A7.2,7.2 0 0 1 579.4,297.8" stroke-width="0.6"/><path d="M572.1,297.8 L572.1,290.6 L575.6,287.1" stroke-width="0.5"/><path d="M509.7,235.4 L627.8,235.4" stroke-width="0.5"/></g>
<polygon points="66,159.8 70.7,162.2 66,164.6" fill="#111"/><polygon points="66,313.8 70.7,316.2 66,318.6" fill="#111"/>
</svg>
</body></html>
